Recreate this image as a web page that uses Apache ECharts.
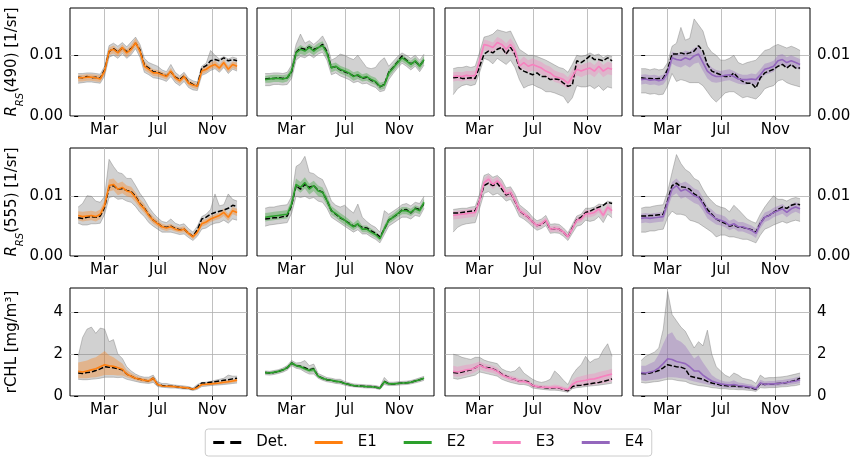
<!DOCTYPE html>
<html lang="en">
<head>
  <meta charset="UTF-8">
  <title>Rrs and rCHL ensembles</title>
  <style>
    html, body { margin: 0; padding: 0; background: #fff; }
    #main { width: 857px; height: 465px; }
  </style>
</head>
<body>
  <div id="main"></div>

  <script src="https://cdn.jsdelivr.net/npm/echarts@6/dist/echarts.min.js"></script>

  <script>
    // day of year for every sample (every 10 days)
    var DAYS = [0, 10, 20, 30, 40, 50, 60, 70, 80, 90, 100, 110, 120, 130, 140, 150, 160, 170, 180,
      190, 200, 210, 220, 230, 240, 250, 260, 270, 280, 290, 300, 310, 320, 330, 340, 350, 360]
    var TICK_DAYS = [59, 181, 304]
    var TICK_LABELS = ['Mar', 'Jul', 'Nov']

    // Rrs values are in units of 1e-4 1/sr
    // --- Rrs(490) ---
    var r490_e1_det  = [64,63,65,63,64,62,76,106,111,105,112,106,111,120,109,84,79,73,72,69,66,73,64,60,66,56,52,50,79,83,91,93,91,96,91,93,91]
    var r490_e1_mean = [63,63,64,64,63,61,74,107,110,104,113,104,110,121,107,82,77,71,71,68,65,74,63,58,65,54,51,49,74,77,82,85,79,88,77,85,82]
    var r490_e1_lo   = [57,57,58,58,57,56,68,100,103,98,106,97,104,114,100,76,71,66,65,63,60,68,58,53,60,50,46,44,69,72,77,80,74,82,72,79,76]
    var r490_e1_hi   = [68,68,69,69,68,67,80,113,116,110,118,110,117,128,115,90,83,77,76,73,70,79,68,63,70,59,56,53,79,82,88,91,85,93,83,90,88]
    var r490_e1_glo  = [54,55,56,56,55,54,66,97,100,95,103,95,101,111,97,72,68,63,62,60,57,65,55,50,57,47,43,42,67,70,75,78,72,80,70,77,74]
    var r490_e1_ghi  = [70,70,71,71,70,69,82,116,120,115,121,114,122,130,118,95,88,85,82,76,73,85,72,66,72,62,58,56,82,87,108,100,94,98,94,97,95]

    var r490_e2_det  = [61,62,62,63,62,63,73,105,112,110,114,110,112,118,106,80,81,76,73,70,66,67,62,64,59,56,48,52,72,80,89,99,92,86,90,83,92]
    var r490_e2_mean = [60,61,62,62,61,63,74,104,110,107,113,107,113,116,104,79,82,77,74,71,65,68,63,65,60,57,49,51,71,79,88,96,91,85,91,82,93]
    var r490_e2_lo   = [55,55,56,56,55,57,66,96,102,100,105,100,106,109,96,72,75,70,67,64,58,61,57,58,54,51,43,45,64,73,82,90,85,79,85,76,87]
    var r490_e2_hi   = [66,67,68,68,67,69,80,111,117,113,119,114,120,123,110,86,88,83,80,77,72,74,69,71,66,63,55,57,77,85,94,101,96,91,97,88,99]
    var r490_e2_glo  = [50,50,52,52,51,52,62,92,98,96,101,96,102,105,92,68,71,66,63,60,55,57,53,54,50,47,40,42,60,70,79,87,82,76,82,73,84]
    var r490_e2_ghi  = [70,70,71,71,70,72,84,118,135,120,124,118,124,132,118,92,96,102,100,96,93,100,90,80,78,80,90,96,82,90,98,104,100,95,100,92,102]

    var r490_e3_det  = [63,64,62,62,63,62,82,102,107,104,110,113,102,113,102,79,74,71,68,71,65,65,60,61,60,54,49,51,91,88,93,99,93,93,91,96,91]
    var r490_e3_mean = [65,66,65,67,66,67,91,118,116,113,121,118,110,118,107,82,88,82,85,82,79,74,71,65,63,60,54,65,77,74,77,79,74,82,74,79,77]
    var r490_e3_lo   = [57,58,57,59,58,59,82,108,106,104,112,109,100,108,97,74,78,72,75,72,69,64,62,56,54,50,45,55,67,64,67,69,64,72,64,69,67]
    var r490_e3_hi   = [72,73,72,74,74,75,100,126,124,121,130,127,120,128,117,91,98,92,95,92,89,84,81,75,72,70,64,76,87,84,87,89,84,92,84,90,87]
    var r490_e3_glo  = [35,45,50,52,50,52,72,95,92,86,95,90,85,92,80,60,46,50,52,48,45,40,40,38,35,32,21,30,50,48,48,50,45,50,42,48,46]
    var r490_e3_ghi  = [78,80,80,82,80,82,105,130,132,135,142,140,138,140,125,110,105,100,100,98,95,92,88,84,80,78,72,85,100,98,100,104,100,102,96,100,98]

    var r490_e4_det  = [63,62,62,61,62,62,77,102,102,104,102,104,107,116,107,85,74,71,68,65,65,71,63,57,54,54,46,63,71,74,77,82,85,79,85,79,79]
    var r490_e4_mean = [60,61,59,60,58,60,71,96,93,92,96,93,99,102,88,74,68,65,65,67,68,65,61,60,60,61,60,68,77,79,82,91,93,88,91,88,85]
    var r490_e4_lo   = [52,53,51,52,50,52,62,86,82,80,84,80,86,88,74,62,56,55,56,58,59,56,53,52,52,53,51,59,68,70,73,82,84,79,82,79,76]
    var r490_e4_hi   = [68,69,67,68,66,68,80,106,104,103,108,106,112,115,102,88,80,76,74,76,77,74,70,68,68,70,69,77,86,88,91,100,102,97,100,97,94]
    var r490_e4_glo  = [38,38,36,37,35,36,50,70,57,60,58,55,55,55,50,40,30,23,30,38,40,40,35,30,32,30,28,35,45,48,50,58,60,55,52,50,48]
    var r490_e4_ghi  = [78,78,76,78,76,77,88,115,120,146,125,128,160,150,140,115,105,100,92,92,95,100,88,85,88,90,92,100,108,110,115,118,115,112,115,112,108]

    // --- Rrs(555) ---
    var r555_e1_det  = [64,63,65,66,65,67,82,115,118,112,113,110,108,100,88,80,69,60,55,49,48,50,46,44,45,38,33,44,62,65,70,73,75,77,80,85,83]
    var r555_e1_mean = [68,66,67,68,66,70,85,118,120,112,115,109,107,98,87,79,68,60,54,49,47,49,45,43,45,38,32,40,54,57,62,65,68,73,65,76,73]
    var r555_e1_lo   = [60,58,59,60,58,62,77,108,110,102,105,100,98,90,80,72,62,54,49,44,42,44,41,39,40,34,28,36,49,52,57,60,62,67,59,70,67]
    var r555_e1_hi   = [75,74,75,76,74,78,93,128,130,122,125,118,116,107,95,87,75,66,60,54,52,54,50,48,50,42,36,45,59,62,67,70,73,79,71,82,79]
    var r555_e1_glo  = [55,52,52,54,54,55,70,98,100,95,96,92,90,83,73,66,56,50,45,40,40,40,38,36,37,31,26,33,45,47,52,55,56,60,55,62,60]
    var r555_e1_ghi  = [82,88,101,100,92,90,100,162,150,140,138,130,130,118,105,95,82,72,64,58,56,62,55,52,54,46,40,50,66,70,78,104,84,86,104,95,92]

    var r555_e2_det  = [62,63,64,64,66,67,85,118,112,120,115,118,110,107,93,76,70,64,60,55,50,52,48,47,42,38,32,45,60,65,70,77,78,72,80,78,88]
    var r555_e2_mean = [65,66,67,68,69,70,87,120,115,123,112,118,109,107,93,76,71,65,60,54,49,54,45,45,40,36,29,46,60,65,71,76,76,73,79,76,90]
    var r555_e2_lo   = [58,59,60,61,62,63,80,112,106,113,103,109,100,98,85,69,64,58,53,48,43,48,40,40,35,31,25,40,54,59,65,70,70,67,73,70,84]
    var r555_e2_hi   = [72,73,74,75,76,77,95,130,124,132,121,126,118,115,101,84,78,72,67,61,55,61,51,51,46,41,34,52,66,71,77,82,82,79,85,82,96]
    var r555_e2_glo  = [50,52,53,54,55,56,72,100,98,100,96,98,92,90,80,65,60,55,50,45,40,44,37,37,32,28,22,36,50,55,60,65,65,62,68,66,80]
    var r555_e2_ghi  = [80,82,82,84,85,86,100,150,155,167,140,138,132,128,112,92,85,82,85,78,72,87,65,58,52,48,40,76,70,75,80,86,88,84,90,88,100]

    var r555_e3_det  = [72,72,73,74,75,76,93,118,122,118,122,112,102,106,92,76,70,65,57,51,53,59,45,46,45,40,32,47,61,65,73,75,79,82,85,90,88]
    var r555_e3_mean = [68,69,70,71,72,73,93,123,129,120,126,118,104,107,93,76,71,65,57,51,54,60,45,46,45,40,32,46,60,62,71,71,73,79,68,82,76]
    var r555_e3_lo   = [61,62,63,64,65,66,86,116,120,112,118,110,97,100,86,70,65,59,52,46,49,55,40,41,40,36,28,41,55,57,65,65,67,73,62,76,70]
    var r555_e3_hi   = [75,76,77,78,79,80,100,130,136,128,133,125,111,114,100,82,77,71,62,56,59,65,50,51,50,44,36,51,65,67,77,77,79,85,75,88,82]
    var r555_e3_glo  = [40,48,52,54,55,56,80,105,108,102,105,100,92,95,82,66,62,56,49,43,46,51,38,39,38,33,26,38,50,52,60,58,60,66,56,70,64]
    var r555_e3_ghi  = [78,79,80,80,82,83,104,135,138,132,135,128,114,116,104,86,80,74,65,59,62,68,53,54,53,47,39,53,67,70,80,80,82,87,86,92,90]

    var r555_e4_det  = [67,67,68,68,69,70,93,118,122,116,115,112,104,100,90,78,70,62,58,55,50,52,48,48,46,44,40,55,65,68,73,78,82,80,85,87,86]
    var r555_e4_mean = [63,64,63,64,65,66,90,112,118,109,112,107,101,98,87,73,68,62,60,57,51,54,49,49,46,43,38,54,65,68,73,76,79,73,79,82,79]
    var r555_e4_lo   = [55,56,55,56,57,58,80,100,105,96,99,94,89,86,76,63,58,53,51,48,43,46,41,41,38,35,30,46,57,60,65,68,71,65,71,74,71]
    var r555_e4_hi   = [71,72,71,72,73,74,100,124,130,122,125,120,113,110,98,83,78,71,69,66,59,62,57,57,54,51,46,62,73,76,81,84,87,81,87,90,87]
    var r555_e4_glo  = [40,40,42,42,44,45,65,75,70,70,68,60,58,55,50,45,40,32,35,35,32,32,30,28,28,25,22,35,45,48,52,55,58,55,58,60,58]
    var r555_e4_ghi  = [80,82,82,84,85,86,108,140,170,155,145,140,130,126,112,100,92,85,82,80,74,85,78,70,62,58,55,70,82,92,101,95,95,92,96,98,96]

    // --- rCHL [mg/m3] ---
    var chl_e1_det  = [1.10,1.08,1.12,1.15,1.22,1.30,1.40,1.38,1.35,1.30,1.25,1.05,0.95,0.85,0.80,0.75,0.72,0.85,0.55,0.50,0.48,0.47,0.45,0.42,0.40,0.38,0.32,0.45,0.62,0.62,0.66,0.68,0.72,0.75,0.78,0.82,0.85]
    var chl_e1_mean = [1.18,1.15,1.20,1.25,1.30,1.40,1.50,1.45,1.42,1.35,1.28,1.05,0.95,0.85,0.80,0.75,0.72,0.85,0.55,0.48,0.47,0.46,0.44,0.42,0.40,0.38,0.32,0.40,0.55,0.56,0.58,0.60,0.62,0.66,0.68,0.72,0.76]
    var chl_e1_lo   = [0.85,0.85,0.85,0.88,0.90,0.95,1.00,1.00,1.00,0.98,0.98,0.90,0.82,0.75,0.70,0.66,0.64,0.72,0.48,0.43,0.42,0.41,0.40,0.38,0.36,0.34,0.28,0.35,0.48,0.50,0.52,0.54,0.56,0.58,0.60,0.64,0.68]
    var chl_e1_hi   = [1.60,1.65,1.70,1.80,1.85,2.00,2.15,1.95,1.85,1.70,1.55,1.25,1.10,0.98,0.90,0.85,0.82,0.95,0.62,0.55,0.52,0.51,0.50,0.47,0.45,0.43,0.36,0.45,0.60,0.62,0.65,0.67,0.70,0.74,0.76,0.80,0.84]
    var chl_e1_glo  = [0.80,0.78,0.78,0.80,0.82,0.85,0.90,0.90,0.90,0.88,0.90,0.80,0.75,0.70,0.65,0.62,0.60,0.65,0.45,0.42,0.40,0.38,0.38,0.35,0.33,0.32,0.26,0.32,0.45,0.47,0.50,0.52,0.53,0.55,0.57,0.60,0.62]
    var chl_e1_ghi  = [1.90,2.80,3.20,3.30,3.00,3.25,3.20,2.60,2.70,2.00,1.80,1.40,1.20,1.05,0.95,0.90,0.90,1.00,0.68,0.60,0.60,0.55,0.52,0.50,0.48,0.45,0.38,0.55,0.65,0.66,0.70,0.75,0.80,0.85,1.00,0.95,0.95]

    var chl_e2_det  = [1.12,1.10,1.13,1.18,1.25,1.35,1.58,1.45,1.42,1.35,1.25,1.30,0.95,0.85,0.78,0.75,0.70,0.68,0.60,0.55,0.50,0.48,0.47,0.45,0.45,0.42,0.38,0.70,0.58,0.58,0.60,0.62,0.63,0.66,0.72,0.78,0.85]
    var chl_e2_mean = [1.12,1.10,1.14,1.18,1.24,1.36,1.58,1.46,1.40,1.30,1.22,1.28,0.95,0.85,0.78,0.75,0.70,0.68,0.60,0.55,0.50,0.48,0.47,0.45,0.44,0.42,0.37,0.68,0.58,0.58,0.60,0.62,0.63,0.66,0.72,0.78,0.85]
    var chl_e2_lo   = [1.05,1.04,1.07,1.11,1.17,1.28,1.50,1.38,1.32,1.22,1.12,1.15,0.88,0.78,0.72,0.69,0.64,0.62,0.55,0.50,0.46,0.44,0.43,0.41,0.40,0.38,0.33,0.60,0.53,0.53,0.55,0.57,0.58,0.61,0.66,0.72,0.79]
    var chl_e2_hi   = [1.18,1.16,1.20,1.24,1.31,1.43,1.65,1.53,1.48,1.40,1.32,1.40,1.02,0.92,0.84,0.81,0.76,0.74,0.65,0.60,0.55,0.53,0.52,0.50,0.49,0.46,0.41,0.76,0.63,0.63,0.65,0.67,0.68,0.71,0.78,0.84,0.91]
    var chl_e2_glo  = [1.02,1.00,1.03,1.08,1.14,1.24,1.45,1.33,1.28,1.15,1.05,1.05,0.85,0.75,0.68,0.65,0.60,0.58,0.52,0.47,0.44,0.42,0.40,0.38,0.38,0.36,0.31,0.55,0.50,0.50,0.52,0.54,0.55,0.58,0.63,0.68,0.75]
    var chl_e2_ghi  = [1.20,1.18,1.22,1.26,1.34,1.46,1.70,1.58,1.60,1.70,1.45,1.53,1.08,0.98,0.88,0.85,0.80,0.80,0.70,0.63,0.58,0.56,0.55,0.53,0.52,0.50,0.45,0.89,0.66,0.66,0.68,0.70,0.71,0.74,0.80,0.87,0.94]

    var chl_e3_det  = [1.12,1.10,1.15,1.20,1.25,1.35,1.50,1.38,1.35,1.30,1.20,1.05,0.95,0.85,0.80,0.70,0.72,0.68,0.50,0.45,0.42,0.40,0.38,0.40,0.38,0.32,0.25,0.45,0.50,0.52,0.55,0.58,0.62,0.65,0.70,0.75,0.82]
    var chl_e3_mean = [1.18,1.15,1.20,1.25,1.28,1.35,1.48,1.38,1.32,1.28,1.18,1.02,0.92,0.85,0.80,0.70,0.70,0.65,0.50,0.45,0.42,0.42,0.40,0.42,0.40,0.35,0.30,0.55,0.68,0.72,0.75,0.80,0.82,0.88,0.95,1.00,1.05]
    var chl_e3_lo   = [0.95,0.92,0.95,1.00,1.05,1.15,1.28,1.20,1.15,1.10,1.02,0.90,0.80,0.72,0.68,0.60,0.60,0.55,0.42,0.38,0.35,0.34,0.32,0.32,0.30,0.26,0.20,0.40,0.45,0.48,0.50,0.52,0.55,0.58,0.60,0.65,0.70]
    var chl_e3_hi   = [1.45,1.40,1.45,1.50,1.52,1.58,1.65,1.55,1.50,1.45,1.35,1.15,1.05,0.98,0.92,0.82,0.82,0.75,0.60,0.55,0.52,0.52,0.50,0.55,0.52,0.45,0.40,0.75,0.90,0.95,1.00,1.05,1.08,1.15,1.20,1.25,1.30]
    var chl_e3_glo  = [0.85,0.80,0.85,0.90,0.95,1.00,1.15,1.10,1.05,1.00,0.95,0.80,0.72,0.65,0.60,0.55,0.55,0.50,0.38,0.35,0.32,0.30,0.28,0.28,0.26,0.22,0.18,0.35,0.40,0.42,0.45,0.48,0.50,0.52,0.55,0.58,0.62]
    var chl_e3_ghi  = [2.00,1.95,1.85,1.80,1.75,1.85,1.85,1.72,1.65,1.60,1.55,1.30,1.20,1.15,1.20,1.40,1.10,0.95,0.80,0.70,0.65,0.70,0.80,1.20,1.00,0.75,0.55,1.00,1.30,1.50,1.90,1.60,1.75,1.80,2.20,2.50,1.90]

    var chl_e4_det  = [1.08,1.06,1.10,1.15,1.22,1.35,1.50,1.45,1.40,1.38,1.30,0.95,0.90,0.85,0.80,0.70,0.62,0.58,0.52,0.50,0.48,0.48,0.46,0.45,0.42,0.38,0.32,0.60,0.55,0.58,0.58,0.60,0.62,0.65,0.70,0.75,0.85]
    var chl_e4_mean = [1.12,1.10,1.15,1.20,1.35,1.55,1.78,1.75,1.65,1.60,1.55,1.40,1.20,1.20,1.00,0.85,0.72,0.65,0.58,0.55,0.52,0.55,0.50,0.48,0.45,0.42,0.35,0.62,0.56,0.58,0.58,0.60,0.62,0.65,0.68,0.72,0.78]
    var chl_e4_lo   = [0.75,0.72,0.75,0.78,0.80,0.85,0.90,0.90,0.88,0.85,0.82,0.75,0.70,0.65,0.60,0.55,0.50,0.45,0.42,0.40,0.38,0.38,0.36,0.35,0.33,0.30,0.26,0.48,0.45,0.46,0.46,0.48,0.50,0.52,0.55,0.58,0.62]
    var chl_e4_hi   = [1.45,1.45,1.55,1.65,2.00,2.50,2.95,3.05,2.70,2.60,2.40,2.10,1.80,1.95,1.60,1.30,1.00,0.85,0.75,0.70,0.68,0.75,0.65,0.62,0.58,0.55,0.45,0.78,0.70,0.72,0.72,0.75,0.77,0.80,0.84,0.88,0.95]
    var chl_e4_glo  = [0.65,0.62,0.65,0.68,0.70,0.75,0.80,0.80,0.75,0.72,0.70,0.60,0.55,0.50,0.48,0.45,0.40,0.38,0.35,0.35,0.32,0.32,0.30,0.30,0.28,0.26,0.22,0.40,0.38,0.40,0.40,0.42,0.44,0.45,0.48,0.50,0.55]
    var chl_e4_ghi  = [1.70,1.90,2.00,2.10,2.30,3.20,5.00,3.90,3.60,3.30,3.10,2.70,2.30,2.60,2.40,3.15,2.00,1.40,1.20,1.00,0.90,1.10,1.00,0.85,0.80,0.75,0.60,1.00,0.85,0.88,0.88,0.90,0.92,0.95,1.00,1.05,1.10]

    var ENS_NAMES = ['E1', 'E2', 'E3', 'E4']
    var ENS_COLORS = ['#ff7f0e', '#2ca02c', '#f781bf', '#9467bd']
    var ENS_BANDS = ['rgba(255,127,14,0.35)', 'rgba(44,160,44,0.35)', 'rgba(247,129,191,0.35)', 'rgba(148,103,189,0.35)']

    var ROWS = [
      {
        name: '{i|R}{s|RS}{n|(490) [1/sr]}', max: 178, ticks: [0, 100],
        fmt: function (v) { return (v / 10000).toFixed(2) },
        panels: [
          [r490_e1_det, r490_e1_mean, r490_e1_lo, r490_e1_hi, r490_e1_glo, r490_e1_ghi],
          [r490_e2_det, r490_e2_mean, r490_e2_lo, r490_e2_hi, r490_e2_glo, r490_e2_ghi],
          [r490_e3_det, r490_e3_mean, r490_e3_lo, r490_e3_hi, r490_e3_glo, r490_e3_ghi],
          [r490_e4_det, r490_e4_mean, r490_e4_lo, r490_e4_hi, r490_e4_glo, r490_e4_ghi]
        ]
      },
      {
        name: '{i|R}{s|RS}{n|(555) [1/sr]}', max: 181, ticks: [0, 100],
        fmt: function (v) { return (v / 10000).toFixed(2) },
        panels: [
          [r555_e1_det, r555_e1_mean, r555_e1_lo, r555_e1_hi, r555_e1_glo, r555_e1_ghi],
          [r555_e2_det, r555_e2_mean, r555_e2_lo, r555_e2_hi, r555_e2_glo, r555_e2_ghi],
          [r555_e3_det, r555_e3_mean, r555_e3_lo, r555_e3_hi, r555_e3_glo, r555_e3_ghi],
          [r555_e4_det, r555_e4_mean, r555_e4_lo, r555_e4_hi, r555_e4_glo, r555_e4_ghi]
        ]
      },
      {
        name: '{n|rCHL [mg/m³]}', max: 5.17, ticks: [0, 2, 4],
        fmt: function (v) { return String(v) },
        panels: [
          [chl_e1_det, chl_e1_mean, chl_e1_lo, chl_e1_hi, chl_e1_glo, chl_e1_ghi],
          [chl_e2_det, chl_e2_mean, chl_e2_lo, chl_e2_hi, chl_e2_glo, chl_e2_ghi],
          [chl_e3_det, chl_e3_mean, chl_e3_lo, chl_e3_hi, chl_e3_glo, chl_e3_ghi],
          [chl_e4_det, chl_e4_mean, chl_e4_lo, chl_e4_hi, chl_e4_glo, chl_e4_ghi]
        ]
      }
    ]

    var COL_LEFT = [70, 257, 445, 633]
    var ROW_TOP = [8, 148, 288]
    var FONT = 'DejaVu Sans'

    function pairs(ys) {
      return ys.map(function (y, i) { return [DAYS[i], y] })
    }

    // filled area between lo and hi, placed with the axes of grid g
    function band(g, lo, hi, fill) {
      return {
        type: 'custom', xAxisIndex: g, yAxisIndex: g, silent: true, animation: false,
        data: DAYS.map(function (d, i) { return [d, lo[i], hi[i]] }),
        encode: { x: 0, y: [1, 2] },
        renderItem: function (params, api) {
          if (params.dataIndex !== 0) return
          var top = [], bottom = []
          for (var i = 0; i < DAYS.length; i++) {
            top.push(api.coord([DAYS[i], hi[i]]))
            bottom.unshift(api.coord([DAYS[i], lo[i]]))
          }
          return {
            type: 'polygon',
            shape: { points: top.concat(bottom) },
            style: { fill: fill, stroke: null }
          }
        }
      }
    }

    var grids = [], xAxes = [], yAxes = [], series = []

    ROWS.forEach(function (row, r) {
      row.panels.forEach(function (p, c) {
        var g = grids.length
        grids.push({
          left: COL_LEFT[c], top: ROW_TOP[r], width: 177, height: 108,
          show: true, borderColor: '#000', borderWidth: 1, backgroundColor: 'transparent'
        })
        xAxes.push({
          gridIndex: g, type: 'value', min: -18.5, max: 382.5,
          axisLine: { show: false },
          axisTick: { show: true, customValues: TICK_DAYS, length: 4, lineStyle: { color: '#000' } },
          axisLabel: {
            customValues: TICK_DAYS, margin: 7, fontSize: 15, color: '#000', fontFamily: FONT,
            formatter: function (v) { return TICK_LABELS[TICK_DAYS.indexOf(v)] }
          },
          splitLine: { show: true, lineStyle: { color: '#b0b0b0', width: 0.8 } }
        })
        var side = c === 0 || c === 3
        var y = {
          gridIndex: g, type: 'value', min: 0, max: row.max,
          position: c === 3 ? 'right' : 'left',
          axisLine: { show: false },
          axisTick: { show: side, customValues: row.ticks, length: 4, lineStyle: { color: '#000' } },
          axisLabel: {
            show: side, customValues: row.ticks, margin: 7, fontSize: 15, color: '#000',
            fontFamily: FONT, formatter: row.fmt
          },
          splitLine: { show: true, lineStyle: { color: '#b0b0b0', width: 0.8 } }
        }
        if (c === 0) {
          y.name = row.name
          y.nameLocation = 'middle'
          y.nameRotate = 90
          y.nameGap = 45
          y.nameTextStyle = {
            color: '#000', fontFamily: FONT,
            rich: {
              i: { fontSize: 15, fontStyle: 'italic', fontFamily: FONT, verticalAlign: 'top', lineHeight: 20 },
              s: { fontSize: 10, fontStyle: 'italic', fontFamily: FONT, verticalAlign: 'bottom', lineHeight: 20 },
              n: { fontSize: 15, fontFamily: FONT, verticalAlign: 'top', lineHeight: 20 }
            }
          }
        }
        yAxes.push(y)

        var det = p[0], mean = p[1], lo = p[2], hi = p[3], glo = p[4], ghi = p[5]
        var line = { type: 'line', xAxisIndex: g, yAxisIndex: g, symbol: 'none', showSymbol: false, silent: true, animation: false }
        var edge = { color: 'rgba(110,110,110,0.55)', width: 0.7 }

        // grey: spread of the ensemble members
        series.push(band(g, glo, ghi, 'rgba(128,128,128,0.36)'))
        series.push(Object.assign({}, line, { name: 'members', data: pairs(glo), lineStyle: edge }))
        series.push(Object.assign({}, line, { name: 'members', data: pairs(ghi), lineStyle: edge }))
        // coloured band of the ensemble
        series.push(band(g, lo, hi, ENS_BANDS[c]))
        series.push(Object.assign({}, line, {
          name: 'Det.', data: pairs(det), color: '#000',
          lineStyle: { color: '#000', width: 1.5, type: [5, 2] }
        }))
        series.push(Object.assign({}, line, {
          name: ENS_NAMES[c], data: pairs(mean), color: ENS_COLORS[c],
          lineStyle: { color: ENS_COLORS[c], width: 1.6 }
        }))
      })
    })

    var DASH_ICON = 'path://M0,0H11V3H0Z M17,0H28V3H17Z'
    var LINE_ICON = 'path://M0,0H28V3H0Z'

    var myChart = echarts.init(document.getElementById('main'))
    myChart.setOption({
      animation: false,
      grid: grids,
      xAxis: xAxes,
      yAxis: yAxes,
      legend: {
        data: [
          { name: 'Det.', icon: DASH_ICON },
          { name: 'E1', icon: LINE_ICON },
          { name: 'E2', icon: LINE_ICON },
          { name: 'E3', icon: LINE_ICON },
          { name: 'E4', icon: LINE_ICON }
        ],
        left: 'center', top: 429,
        itemWidth: 28, itemHeight: 3, itemGap: 27,
        selectedMode: false,
        borderColor: '#ccc', borderWidth: 1, borderRadius: 3,
        padding: [6, 8],
        textStyle: { fontSize: 15, color: '#000', fontFamily: FONT, padding: [0, 0, 0, 10] }
      },
      series: series
    })
  </script>
</body>
</html>
